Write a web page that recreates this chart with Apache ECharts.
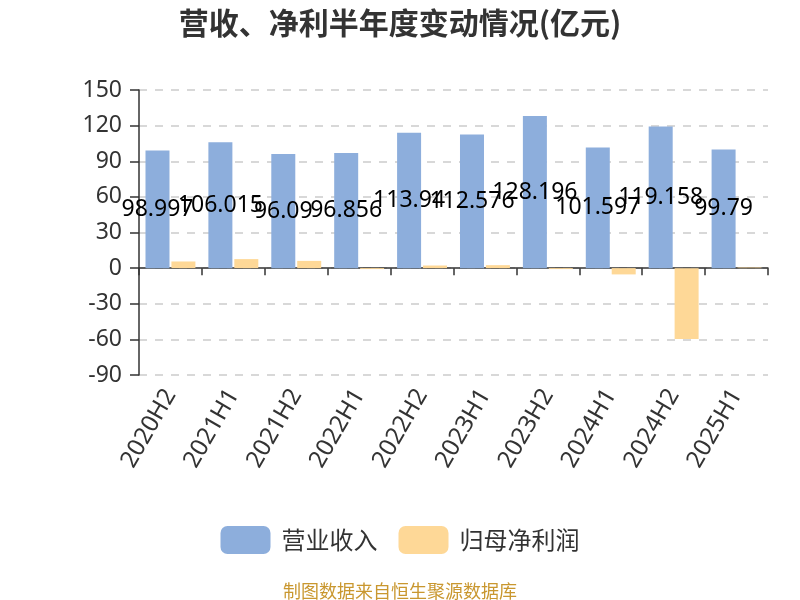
<!DOCTYPE html>
<html>
<head>
<meta charset="utf-8">
<script src="https://cdn.jsdelivr.net/npm/echarts@6/dist/echarts.min.js"></script>
<style>html,body{margin:0;padding:0;background:#fff}#c{width:800px;height:600px}</style>
</head>
<body>
<div id="c"></div>
<script>
const categories = ['2020H2','2021H1','2021H2','2022H1','2022H2','2023H1','2023H2','2024H1','2024H2','2025H1'];
const revenue = [98.997, 106.015, 96.09, 96.856, 113.94, 112.576, 128.196, 101.597, 119.158, 99.79];
const netProfit = [5.6, 7.6, 6.1, -0.8, 2.2, 2.5, -0.8, -5.3, -59.6, 0.5];
const yTicks = { min: -90, max: 150, interval: 30 };
const titleText = '营收、净利半年度变动情况(亿元)';
const sourceText = '制图数据来自恒生聚源数据库';
const seriesNames = ['营业收入', '归母净利润'];

const FONT = '"Noto Sans", "Noto Sans CJK SC", sans-serif';
const chart = echarts.init(document.getElementById('c'));
chart.setOption({
  backgroundColor: '#fff',
  textStyle: { fontFamily: FONT },
  title: [{
    text: titleText, left: 'center', top: 3,
    textStyle: { fontSize: 30, fontWeight: 'bold', color: '#333', fontFamily: '"Noto Sans CJK SC", sans-serif' }
  }, {
    text: sourceText, left: 'center', top: 577,
    textStyle: { fontSize: 18, fontWeight: 'normal', color: '#c9972f', fontFamily: '"Noto Sans CJK SC", sans-serif' }
  }],
  legend: {
    data: seriesNames, left: 'center', top: 521,
    itemWidth: 50, itemHeight: 28, itemGap: 21,
    textStyle: { fontSize: 24, color: '#333', fontFamily: '"Noto Sans CJK SC", sans-serif', padding: [0, 0, 0, 6] },
    itemStyle: { borderRadius: 6 }
  },
  grid: { left: 139, right: 32, top: 90, bottom: 225, containLabel: false },
  xAxis: [{
    type: 'category', data: categories,
    axisLine: { onZero: true, lineStyle: { color: '#333', width: 1.5 } },
    axisTick: { show: true, length: 7, lineStyle: { color: '#333', width: 1.5 } },
    axisLabel: { show: false }
  }, {
    type: 'category', data: categories, position: 'bottom',
    axisLine: { show: false, onZero: false }, axisTick: { show: false },
    axisLabel: { rotate: 60, fontSize: 24, color: '#333', margin: 16, interval: 0 }
  }],
  yAxis: {
    type: 'value', min: yTicks.min, max: yTicks.max, interval: yTicks.interval,
    axisLine: { show: true, lineStyle: { color: '#333', width: 1.5 } },
    axisTick: { show: true, length: 9, lineStyle: { color: '#333', width: 1.5 } },
    axisLabel: { fontSize: 23, color: '#333', margin: 17 },
    splitLine: { show: true, lineStyle: { type: [8, 8], color: '#ccc', width: 1.5 } }
  },
  series: [{
    name: seriesNames[0], type: 'bar', xAxisIndex: 0, data: revenue,
    barWidth: 24, barGap: '8%',
    itemStyle: { color: '#8daedc' },
    label: { show: true, position: 'inside', color: '#000', fontSize: 23 }
  }, {
    name: seriesNames[1], type: 'bar', xAxisIndex: 0, data: netProfit,
    barWidth: 24,
    itemStyle: { color: '#fed897' }
  }]
});
</script>
</body>
</html>
